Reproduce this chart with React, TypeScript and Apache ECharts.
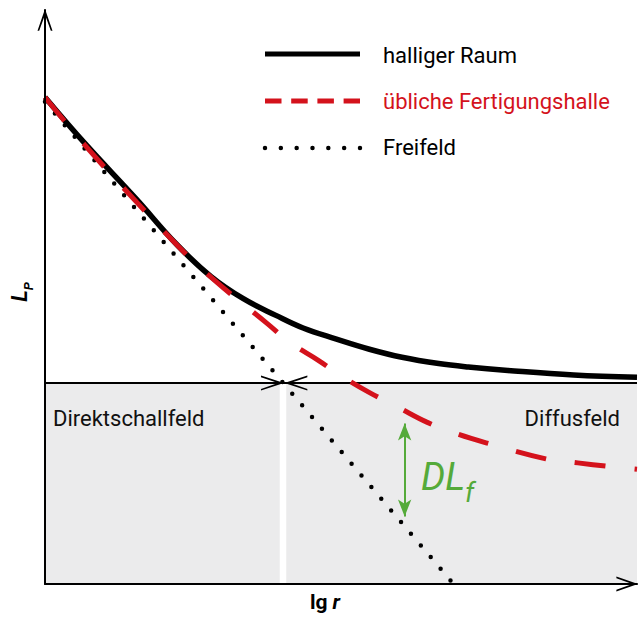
import React, { useEffect, useRef } from "react";
import * as echarts from "echarts";

// lg r (0..100) / L_P (0..100)
const hallX = [0, 6.7, 15.4, 22.3, 28.0, 33.5, 39.0, 43.6, 49.1, 54.8, 60.3, 66.5, 71.5, 78.2, 89.3, 100];
const hallY = [84.8, 76.8, 67.1, 59.1, 53.6, 49.7, 46.8, 44.6, 42.7, 40.9, 39.5, 38.4, 37.8, 37.2, 36.4, 36.0];

const halleX = [0, 6.7, 15.6, 23.5, 29.0, 33.2, 37.4, 41.5, 46.1, 50.3, 54.9, 59.8, 64.5, 69.2, 74.5, 84.6, 90.0, 95.1, 100];
const halleY = [84.8, 76.5, 66.4, 57.8, 52.6, 49.0, 45.5, 42.0, 39.0, 36.1, 33.3, 30.7, 28.2, 26.3, 24.6, 21.8, 21.1, 20.5, 20.0];

const freiX = [0, 69];
const freiY = [84, 0];

const diffusLevel = 35;
const critGap = [39.65, 40.75];
const critTips = [40.2, 40.6];
const dlfX = 60.75;
const dlfRange = [11.76, 27.96];

const legendNames = ["halliger Raum", "übliche Fertigungshalle", "Freifeld"];
const regionLabels = ["Direktschallfeld", "Diffusfeld"];

const FONT = 'Roboto, "Noto Sans", sans-serif';
const RED = "#d4121c";
const GREEN = "#55aa3a";
const GRAY = "#ebebec";
const chevron = "path://M8,0L8,0.01M8,21L16,44L14.2,44L8,27L1.8,44L0,44Z";

const zip = (xs: number[], ys: number[]) => xs.map((x, i) => [x, ys[i]]);

export default function App() {
  const ref = useRef<HTMLDivElement>(null);
  useEffect(() => {
    if (!ref.current) return;
    const chart = echarts.init(ref.current, undefined, { renderer: "svg" });
    const axisCommon = {
      type: "value" as const,
      min: 0,
      max: 100,
      z: 10,
      axisLine: {
        show: true,
        lineStyle: { color: "#000", width: 2 },
        symbol: ["none", chevron],
        symbolSize: [15, 44],
      },
      axisTick: { show: false },
      axisLabel: { show: false },
      splitLine: { show: false },
    };
    const option: any = {
      animation: false,
      grid: { left: 40, right: 1, top: 10, bottom: 34, containLabel: false },
      xAxis: {
        ...axisCommon,
        name: "{a|lg}{b|r}",
        nameLocation: "middle",
        nameGap: 7,
        nameTextStyle: {
          padding: [0, 32, 0, 0],
          rich: {
            a: { fontSize: 21, fontWeight: "bold", fontFamily: FONT, color: "#000" },
            b: { fontSize: 21, fontWeight: "bold", fontStyle: "italic", fontFamily: FONT, color: "#000", padding: [0, 0, 0, 5] },
          },
        },
      },
      yAxis: {
        ...axisCommon,
        name: "{l|L}{p|P}",
        nameLocation: "middle",
        nameRotate: 90,
        nameGap: 10,
        nameTextStyle: {
          padding: [0, 0, 0, 10],
          rich: {
            l: { fontSize: 22, fontWeight: "bold", fontStyle: "italic", fontFamily: FONT, color: "#000", padding: [0, 0, 5, 0], verticalAlign: "bottom" },
            p: { fontSize: 13, fontWeight: "bold", fontStyle: "italic", fontFamily: FONT, color: "#000", verticalAlign: "bottom" },
          },
        },
      },
      graphic: [
        { type: "line", shape: { x1: 265, y1: 54, x2: 360, y2: 54 }, style: { stroke: "#000", lineWidth: 5 } },
        { type: "line", shape: { x1: 265, y1: 101, x2: 360, y2: 101 }, style: { stroke: RED, lineWidth: 5, lineDash: [16.5, 9.7] } },
        { type: "line", shape: { x1: 265, y1: 148, x2: 360.5, y2: 148 }, style: { stroke: "#000", lineWidth: 4.5, lineDash: [0, 15.83], lineCap: "round" } },
        { type: "text", x: 383, y: 55, style: { text: legendNames[0], fontSize: 22, fontFamily: FONT, fill: "#000", verticalAlign: "middle" } },
        { type: "text", x: 383, y: 101, style: { text: legendNames[1], fontSize: 22, fontFamily: FONT, fill: RED, verticalAlign: "middle" } },
        { type: "text", x: 383, y: 147, style: { text: legendNames[2], fontSize: 22, fontFamily: FONT, fill: "#000", verticalAlign: "middle" } },
        { type: "text", x: 53, y: 418, z: 10, style: { text: regionLabels[0], fontSize: 22, fontFamily: FONT, fill: "#111", verticalAlign: "middle" } },
        { type: "text", x: 620, y: 418, z: 10, style: { text: regionLabels[1], fontSize: 22, fontFamily: FONT, fill: "#111", align: "right", verticalAlign: "middle" } },
        {
          type: "text",
          x: 421,
          y: 458,
          z: 10,
          style: {
            text: "{a|DL}{b|f}",
            verticalAlign: "top",
            rich: {
              a: { fontSize: 38, fontStyle: "italic", fontFamily: FONT, fill: GREEN, padding: [0, 0, 10, 0], verticalAlign: "bottom" },
              b: { fontSize: 27, fontStyle: "italic", fontFamily: FONT, fill: GREEN, verticalAlign: "bottom" },
            },
          },
        },
      ],
      series: [
        {
          type: "line",
          name: "Bereiche",
          data: [],
          z: 1,
          silent: true,
          markArea: {
            silent: true,
            itemStyle: { color: GRAY },
            data: [
              [{ coord: [0, 0] }, { coord: [critGap[0], diffusLevel] }],
              [{ coord: [critGap[1], 0] }, { coord: [100, diffusLevel] }],
            ],
          },
        },
        {
          type: "line",
          name: legendNames[2],
          data: zip(freiX, freiY),
          z: 3,
          symbol: "none",
          silent: true,
          lineStyle: { color: "#000", width: 4.5, type: [0, 15.3], cap: "round" },
          markLine: {
            silent: true,
            symbolSize: [15, 44],
            label: { show: false },
            lineStyle: { color: "#000", width: 2, type: "solid" },
            emphasis: { disabled: true },
            data: [
              [{ coord: [0, diffusLevel], symbol: "none" }, { coord: [100, diffusLevel], symbol: "none" }],
              [{ coord: [0, diffusLevel], symbol: "none" }, { coord: [critTips[0], diffusLevel], symbol: chevron }],
              [{ coord: [100, diffusLevel], symbol: "none" }, { coord: [critTips[1], diffusLevel], symbol: chevron }],
            ],
          },
        },
        {
          type: "line",
          name: legendNames[0],
          data: zip(hallX, hallY),
          z: 4,
          symbol: "none",
          silent: true,
          smooth: 0.4,
          lineStyle: { color: "#000", width: 5.5 },
        },
        {
          type: "line",
          name: legendNames[1],
          data: zip(halleX, halleY),
          z: 5,
          symbol: "none",
          silent: true,
          smooth: 0.4,
          lineStyle: { color: RED, width: 5, type: [31, 29] },
          markLine: {
            silent: true,
            symbol: ["arrow", "arrow"],
            symbolSize: [10, 17],
            label: { show: false },
            lineStyle: { color: GREEN, width: 2, type: "solid" },
            emphasis: { disabled: true },
            data: [[{ coord: [dlfX, dlfRange[0]] }, { coord: [dlfX, dlfRange[1]] }]],
          },
        },
      ],
    };
    chart.setOption(option);
    return () => chart.dispose();
  }, []);
  return (
    <div
      ref={ref}
      style={{ position: "fixed", left: 0, top: 0, width: 638, height: 618, background: "#fff" }}
    />
  );
}
